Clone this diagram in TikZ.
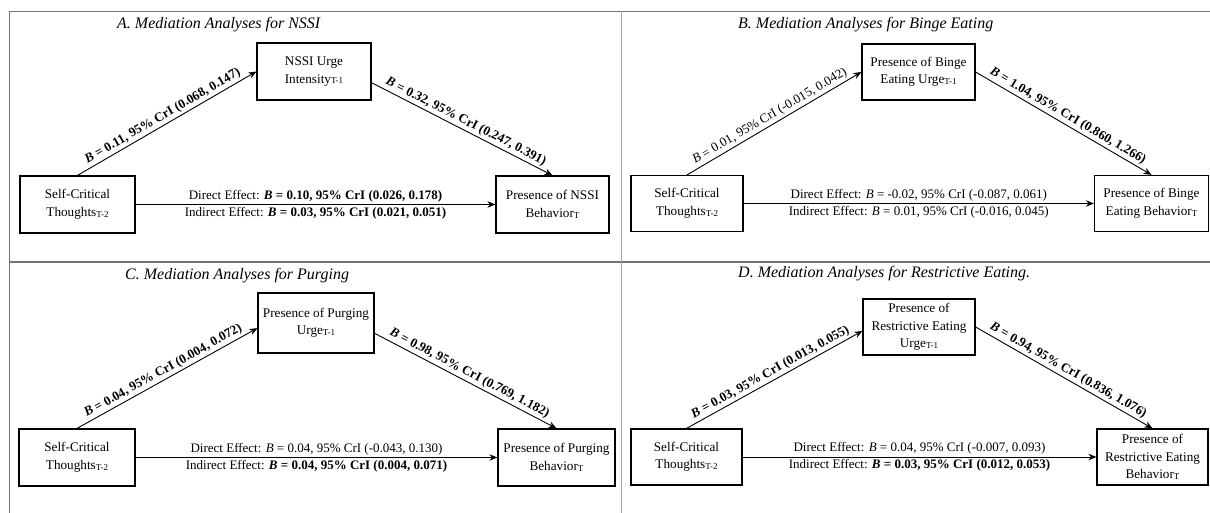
\documentclass[tikz,border=0pt]{standalone}
\usepackage{fontspec}
\setmainfont{Liberation Serif}
\usetikzlibrary{arrows.meta}
\newcommand{\sbs}[1]{{\fontsize{9}{9}\selectfont\raisebox{-0.8pt}{#1}}}
\newcommand{\bB}{\textbf{\textit{B}}}
\begin{document}
\begin{tikzpicture}[x=1pt,y=-1pt,
  box/.style={draw, line width=1.2pt, align=center, inner sep=2pt,
    minimum width=114pt, minimum height=57pt, font=\fontsize{13.2}{17.5}\selectfont},
  arr/.style={line width=0.9pt, -{Stealth[length=8pt,width=6.5pt]}},
  lab/.style={font=\fontsize{13}{15}\selectfont, inner sep=2pt},
  ttl/.style={font=\fontsize{16}{18}\selectfont\itshape, inner sep=0pt, anchor=base west},
  frame/.style={draw=black!55, line width=1.1pt}]
\useasboundingbox (0,0) rectangle (1210,513);
% frame
\draw[frame] (9.5,513) -- (9.5,11.5) -- (1210,11.5);
\draw[frame] (9.5,262) -- (1210,262);
\draw[frame, draw=black!35] (621.5,11.5) -- (621.5,513);
% titles
\node[ttl] (ta) at (117,29) {A. Mediation Analyses for NSSI};
\node[ttl] (tb) at (738,29) {B. Mediation Analyses for Binge Eating};
\node[ttl] (tc) at (125,279) {C. Mediation Analyses for Purging};
\node[ttl] (td) at (738,277) {D. Mediation Analyses for Restrictive Eating.};
% Panel A
\node[box, minimum width=115pt] (a1) at (77.5,204.5) {Self-Critical\\Thoughts\sbs{T-2}};
\node[box] (a2) at (314,71.5) {NSSI Urge\\Intensity\sbs{T-1}};
\node[box, minimum width=113pt] (a3) at (552.5,204.5) {Presence of NSSI\\Behavior\sbs{T}};
\draw[arr] (a1.north) -- (a2.west) node[lab, midway, above, sloped] {\textbf{\textit{B} = 0.11, 95\% CrI (0.068, 0.147)}};
\draw[arr] (a2.-11) -- (a3.north) node[lab, midway, above, sloped] {\textbf{\textit{B} = 0.32, 95\% CrI (0.247, 0.391)}};
\draw[arr] (a1.east) -- (a3.west)
  node[lab, midway, above] {Direct Effect: \textbf{\textit{B} = 0.10, 95\% CrI (0.026, 0.178)}}
  node[lab, midway, below] {Indirect Effect: \textbf{\textit{B} = 0.03, 95\% CrI (0.021, 0.051)}};
% Panel B
\node[box, minimum width=112pt, minimum height=56pt] (b1) at (687,203.5) {Self-Critical\\Thoughts\sbs{T-2}};
\node[box, minimum width=113pt, minimum height=56pt] (b2) at (918.5,72) {Presence of Binge\\Eating Urge\sbs{T-1}};
\node[box, minimum width=114pt, minimum height=56pt] (b3) at (1151.5,203.5) {Presence of Binge\\Eating Behavior\sbs{T}};
\draw[arr] (b1.north) -- (b2.west) node[lab, midway, above, sloped] {\textit{B} = 0.01, 95\% CrI (-0.015, 0.042)};
\draw[arr] (b2.east) -- (b3.north) node[lab, midway, above, sloped] {\textbf{\textit{B} = 1.04, 95\% CrI (0.860, 1.266)}};
\draw[arr] (b1.east) -- (b3.west)
  node[lab, midway, above] {Direct Effect: \textit{B} = -0.02, 95\% CrI (-0.087, 0.061)}
  node[lab, midway, below] {Indirect Effect: \textit{B} = 0.01, 95\% CrI (-0.016, 0.045)};
% Panel C
\node[box, minimum width=116pt] (c1) at (77,457.5) {Self-Critical\\Thoughts\sbs{T-2}};
\node[box, minimum width=116pt, minimum height=60pt] (c2) at (316,323) {Presence of Purging\\Urge\sbs{T-1}};
\node[box, minimum width=117pt] (c3) at (556.5,457.5) {Presence of Purging\\Behavior\sbs{T}};
\draw[arr] (c1.north) -- (c2.185) node[lab, midway, above, sloped] {\textbf{\textit{B} = 0.04, 95\% CrI (0.004, 0.072)}};
\draw[arr] (c2.-10) -- (c3.north) node[lab, midway, above, sloped] {\textbf{\textit{B} = 0.98, 95\% CrI (0.769, 1.182)}};
\draw[arr] (c1.east) -- (c3.west)
  node[lab, midway, above] {Direct Effect: \textit{B} = 0.04, 95\% CrI (-0.043, 0.130)}
  node[lab, midway, below] {Indirect Effect: \textbf{\textit{B} = 0.04, 95\% CrI (0.004, 0.071)}};
% Panel D
\node[box, minimum width=111pt, minimum height=56pt] (d1) at (686.5,457) {Self-Critical\\Thoughts\sbs{T-2}};
\node[box, minimum width=112pt, minimum height=56pt] (d2) at (919,327) {Presence of\\Restrictive Eating\\Urge\sbs{T-1}};
\node[box, minimum width=111pt, minimum height=56pt] (d3) at (1152.5,457) {Presence of\\Restrictive Eating\\Behavior\sbs{T}};
\draw[arr] (d1.north) -- (d2.184) node[lab, midway, above, sloped] {\textbf{\textit{B} = 0.03, 95\% CrI (0.013, 0.055)}};
\draw[arr] (d2.east) -- (d3.north) node[lab, midway, above, sloped] {\textbf{\textit{B} = 0.94, 95\% CrI (0.836, 1.076)}};
\draw[arr] (d1.east) -- (d3.west)
  node[lab, midway, above] {Direct Effect: \textit{B} = 0.04, 95\% CrI (-0.007, 0.093)}
  node[lab, midway, below] {Indirect Effect: \textbf{\textit{B} = 0.03, 95\% CrI (0.012, 0.053)}};
\end{tikzpicture}
\end{document}
